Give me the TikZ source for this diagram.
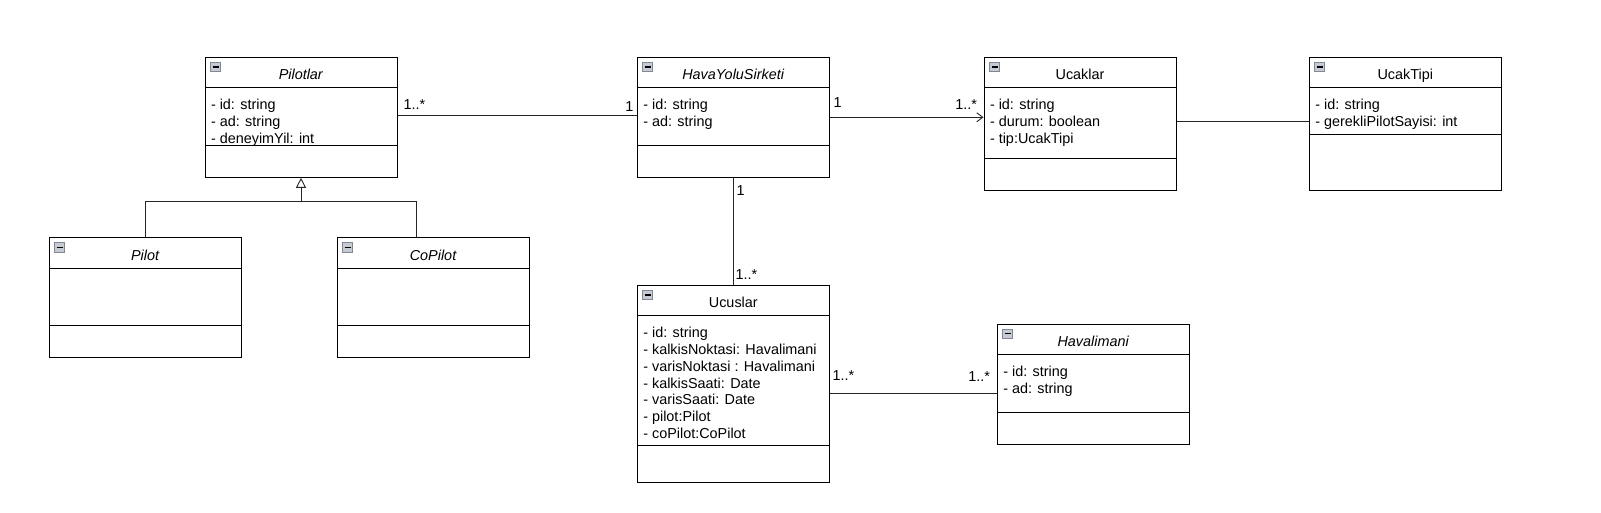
\documentclass[tikz,border=0pt]{standalone}
\usepackage{fontspec}
\setmainfont{Liberation Sans}
\usetikzlibrary{arrows.meta}
\definecolor{iconfill}{RGB}{198,202,210}
\definecolor{iconedge}{RGB}{128,136,150}
\newcommand{\umlfont}{\fontsize{14.4}{16.8}\selectfont}

\begin{document}
\begin{tikzpicture}[x=1pt,y=-1pt,line width=1pt,
        classbox/.style={draw,minimum width=192pt,inner sep=0pt},
        classname/.style={font=\umlfont,anchor=base,inner sep=0pt},
        attrs/.style={font=\umlfont,anchor=north west,align=left,inner sep=0pt},
        mult/.style={font=\umlfont,inner sep=0pt},
        icon/.style={draw=iconedge,fill=iconfill,line width=0.8pt,minimum width=10pt,minimum height=9pt,inner sep=0pt,
          path picture={\draw[black,line width=1.4pt] ([xshift=2pt]path picture bounding box.west) -- ([xshift=-2pt]path picture bounding box.east);}},
        assoc/.style={line width=0.9pt,draw=black!85}]
        \path[fill=white,use as bounding box] (0,0) rectangle (1601,513);

        % Pilotlar
        \node[classbox,minimum height=120pt] (pilotlar) at (301,117.3) {};
        \node[icon] (pilotlar-icon) at ([xshift=11pt,yshift=-10.2pt]pilotlar.north west) {};
        \node[classname] (pilotlar-name) at ([yshift=-23pt]pilotlar.north) {\textit{Pilotlar}};
        \draw ([yshift=-31pt]pilotlar.north west) -- ([yshift=-31pt]pilotlar.north east);
        \draw ([yshift=-89pt]pilotlar.north west) -- ([yshift=-89pt]pilotlar.north east);
        \node[attrs] (pilotlar-attrs) at ([xshift=6pt,yshift=-42pt]pilotlar.north west) {- id: string\\- ad: string\\- deneyimYil: int};

        % HavaYoluSirketi
        \node[classbox,minimum height=120pt] (hys) at (733.3,117.3) {};
        \node[icon] (hys-icon) at ([xshift=11pt,yshift=-10.2pt]hys.north west) {};
        \node[classname] (hys-name) at ([yshift=-23pt]hys.north) {\textit{HavaYoluSirketi}};
        \draw ([yshift=-31pt]hys.north west) -- ([yshift=-31pt]hys.north east);
        \draw ([yshift=-89pt]hys.north west) -- ([yshift=-89pt]hys.north east);
        \node[attrs] (hys-attrs) at ([xshift=6pt,yshift=-42pt]hys.north west) {- id: string\\- ad: string};

        % Ucaklar
        \node[classbox,minimum height=133pt] (ucaklar) at (1080,123.8) {};
        \node[icon] (ucaklar-icon) at ([xshift=11pt,yshift=-10.2pt]ucaklar.north west) {};
        \node[classname] (ucaklar-name) at ([yshift=-23pt]ucaklar.north) {Ucaklar};
        \draw ([yshift=-31pt]ucaklar.north west) -- ([yshift=-31pt]ucaklar.north east);
        \draw ([yshift=-102.2pt]ucaklar.north west) -- ([yshift=-102.2pt]ucaklar.north east);
        \node[attrs] (ucaklar-attrs) at ([xshift=6pt,yshift=-42pt]ucaklar.north west) {- id: string\\- durum: boolean\\- tip:UcakTipi};

        % UcakTipi
        \node[classbox,minimum height=133pt] (ucaktipi) at (1405.3,123.8) {};
        \node[icon] (ucaktipi-icon) at ([xshift=11pt,yshift=-10.2pt]ucaktipi.north west) {};
        \node[classname] (ucaktipi-name) at ([yshift=-23pt]ucaktipi.north) {UcakTipi};
        \draw ([yshift=-31pt]ucaktipi.north west) -- ([yshift=-31pt]ucaktipi.north east);
        \draw ([yshift=-78pt]ucaktipi.north west) -- ([yshift=-78pt]ucaktipi.north east);
        \node[attrs] (ucaktipi-attrs) at ([xshift=6pt,yshift=-42pt]ucaktipi.north west) {- id: string\\- gerekliPilotSayisi: int};

        % Pilot, CoPilot
        \node[classbox,minimum height=120pt] (pilot) at (145.3,297.7) {};
        \node[icon] (pilot-icon) at ([xshift=11pt,yshift=-10.2pt]pilot.north west) {};
        \node[classname] (pilot-name) at ([yshift=-23pt]pilot.north) {\textit{Pilot}};
        \draw ([yshift=-31pt]pilot.north west) -- ([yshift=-31pt]pilot.north east);
        \draw ([yshift=-88.3pt]pilot.north west) -- ([yshift=-88.3pt]pilot.north east);

        \node[classbox,minimum height=120pt] (copilot) at (433.3,297.7) {};
        \node[icon] (copilot-icon) at ([xshift=11pt,yshift=-10.2pt]copilot.north west) {};
        \node[classname] (copilot-name) at ([yshift=-23pt]copilot.north) {\textit{CoPilot}};
        \draw ([yshift=-31pt]copilot.north west) -- ([yshift=-31pt]copilot.north east);
        \draw ([yshift=-88.3pt]copilot.north west) -- ([yshift=-88.3pt]copilot.north east);

        % Ucuslar
        \node[classbox,minimum height=196.7pt] (ucuslar) at (733.3,383.7) {};
        \node[icon] (ucuslar-icon) at ([xshift=11pt,yshift=-10.2pt]ucuslar.north west) {};
        \node[classname] (ucuslar-name) at ([yshift=-23pt]ucuslar.north) {Ucuslar};
        \draw ([yshift=-31pt]ucuslar.north west) -- ([yshift=-31pt]ucuslar.north east);
        \draw ([yshift=-160.7pt]ucuslar.north west) -- ([yshift=-160.7pt]ucuslar.north east);
        \node[attrs] (ucuslar-attrs) at ([xshift=6pt,yshift=-42pt]ucuslar.north west) {- id: string\\- kalkisNoktasi: Havalimani\\- varisNoktasi : Havalimani\\- kalkisSaati: Date\\- varisSaati: Date\\- pilot:Pilot\\- coPilot:CoPilot};

        % Havalimani
        \node[classbox,minimum height=120pt] (havalimani) at (1093.3,384) {};
        \node[icon] (havalimani-icon) at ([xshift=11pt,yshift=-10.2pt]havalimani.north west) {};
        \node[classname] (havalimani-name) at ([yshift=-23pt]havalimani.north) {\textit{Havalimani}};
        \draw ([yshift=-31pt]havalimani.north west) -- ([yshift=-31pt]havalimani.north east);
        \draw ([yshift=-88.7pt]havalimani.north west) -- ([yshift=-88.7pt]havalimani.north east);
        \node[attrs] (havalimani-attrs) at ([xshift=6pt,yshift=-42pt]havalimani.north west) {- id: string\\- ad: string};

        % kalitim
        \coordinate (genjoin) at (301,201.7);
        \draw[assoc,-{Triangle[open,length=10pt,width=10pt]}] (pilot.north) |- (genjoin) -- (pilotlar.south);
        \draw[assoc] ([xshift=-16.6pt]copilot.north) |- (genjoin);

        % iliskiler
        \draw[assoc] ([yshift=2pt]pilotlar.east) -- ([yshift=2pt]hys.west);
        \draw[assoc,-{Straight Barb[length=6pt,width=9pt]}] (hys.east) -- (hys.east -| ucaklar.west);
        \draw[assoc] ([yshift=2pt]ucaklar.east) -- ([yshift=2pt]ucaktipi.west);
        \draw[assoc] (hys.south) -- (ucuslar.north);
        \draw[assoc] ([yshift=-10pt]ucuslar.east) -- ([yshift=-10pt]ucuslar.east -| havalimani.west);

        \node[mult,anchor=base west] (m-pilotlar) at (403,109.3) {1..*};
        \node[mult,anchor=base east] (m-hys-l) at (634,111.7) {1};
        \node[mult,anchor=base west] (m-hys-r) at (833,107.3) {1};
        \node[mult,anchor=base east] (m-ucaklar) at (977.5,110) {1..*};
        \node[mult,anchor=base west] (m-hys-b) at (736,195.7) {1};
        \node[mult,anchor=base west] (m-ucuslar-t) at (735,279.3) {1..*};
        \node[mult,anchor=base west] (m-ucuslar-r) at (832,380.7) {1..*};
        \node[mult,anchor=base east] (m-havalimani) at (990.5,381.5) {1..*};
      \end{tikzpicture}
\end{document}
